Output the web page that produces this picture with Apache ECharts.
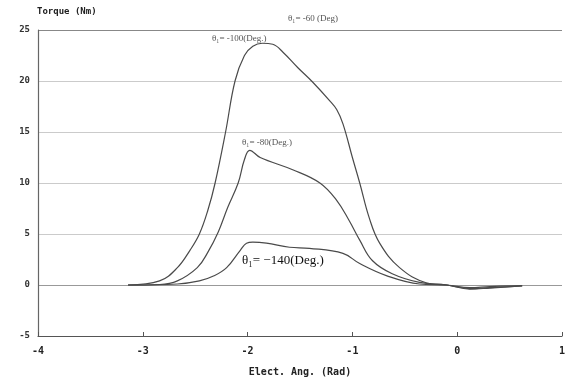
<!DOCTYPE html>
<html>
<head>
<meta charset="utf-8">
<script src="https://cdn.jsdelivr.net/npm/echarts@6/dist/echarts.min.js"></script>
<style>
  html, body { margin: 0; padding: 0; background: #fff; }
  #chart { width: 568px; height: 382px; }
</style>
</head>
<body>
<div id="chart"></div>
<script>
// Torque vs. electrical angle for several advance angles θ1
const xTicks = [-4, -3, -2, -1, 0, 1];
const yTicks = [-5, 0, 5, 10, 15, 20, 25];

// θ1 = -100 deg
const angA = [-3.14, -2.84, -2.67, -2.55, -2.46, -2.38, -2.31, -2.21, -2.12, -2.03, -1.95, -1.86, -1.76, -1.66, -1.52, -1.38, -1.22, -1.15, -1.09, -1.00, -0.93, -0.84, -0.74, -0.55, -0.29, -0.10, 0.12, 0.31, 0.62];
const torqueA = [0, 0.4, 1.7, 3.4, 5.0, 7.3, 10.0, 15.0, 20.0, 22.5, 23.4, 23.7, 23.6, 22.8, 21.3, 19.9, 18.1, 17.2, 15.8, 12.5, 10.0, 6.6, 4.1, 1.7, 0.2, 0, -0.4, -0.3, -0.1];

// θ1 = -80 deg
const angB = [-3.14, -2.84, -2.67, -2.48, -2.38, -2.28, -2.19, -2.09, -2.03, -1.98, -1.88, -1.57, -1.31, -1.15, -1.03, -0.93, -0.81, -0.62, -0.36, -0.10, 0.12, 0.31, 0.62];
const torqueB = [0, 0.05, 0.4, 1.7, 3.2, 5.2, 7.6, 10.0, 12.3, 13.2, 12.5, 11.3, 10.0, 8.3, 6.3, 4.4, 2.4, 1.1, 0.25, 0, -0.35, -0.25, -0.1];

// θ1 = -140 deg
const angC = [-3.14, -2.67, -2.46, -2.32, -2.20, -2.07, -2.01, -1.95, -1.82, -1.60, -1.41, -1.09, -0.93, -0.67, -0.36, -0.10, 0.12, 0.31, 0.62];
const torqueC = [0, 0.1, 0.4, 0.9, 1.7, 3.4, 4.1, 4.2, 4.1, 3.7, 3.6, 3.1, 2.1, 0.9, 0.1, 0, -0.25, -0.15, -0.05];

const pairs = (xs, ys) => xs.map((x, i) => [x, ys[i]]);

const mono = '"DejaVu Sans Mono", "Liberation Mono", monospace';
const lineStyle = { color: '#4a4a4a', width: 1.2 };

const chart = echarts.init(document.getElementById('chart'), null, { renderer: 'canvas' });
chart.setOption({
  animation: false,
  backgroundColor: '#ffffff',
  grid: { left: 38, right: 6, top: 30, bottom: 46 },
  xAxis: {
    type: 'value',
    min: xTicks[0],
    max: xTicks[xTicks.length - 1],
    interval: 1,
    name: 'Elect. Ang. (Rad)',
    nameLocation: 'middle',
    nameGap: 31,
    nameTextStyle: { fontFamily: mono, fontWeight: 'bold', fontSize: 10, color: '#222' },
    axisLine: { onZero: false, lineStyle: { color: '#555', width: 1.2 } },
    axisTick: { inside: true, length: 4, lineStyle: { color: '#555' } },
    axisLabel: { fontFamily: mono, fontWeight: 'bold', fontSize: 10, color: '#222', margin: 10 },
    splitLine: { show: false }
  },
  yAxis: {
    type: 'value',
    min: yTicks[0],
    max: yTicks[yTicks.length - 1],
    interval: 5,
    axisLine: { show: true, onZero: false, lineStyle: { color: '#666', width: 1.2 } },
    axisTick: { show: false },
    axisLabel: { fontFamily: mono, fontWeight: 'bold', fontSize: 9, color: '#333', margin: 8 },
    // gridlines from -5 up to 25; the zero line and the top border are drawn darker
    splitLine: { show: true, lineStyle: { color: ['#555', '#999', '#cbcbcb', '#cbcbcb', '#cbcbcb', '#cbcbcb', '#888'], width: 1.2 } }
  },
  graphic: [
    { type: 'text', left: 37, top: 7,
      style: { text: 'Torque (Nm)', font: 'bold 9px ' + mono, fill: '#222' } },
    { type: 'text', left: 288, top: 14,
      style: { text: 'θ₁= -60 (Deg)', font: '9px "Liberation Serif", serif', fill: '#555' } },
    { type: 'text', left: 212, top: 34,
      style: { text: 'θ₁= -100(Deg.)', font: '9px "Liberation Serif", serif', fill: '#555' } },
    { type: 'text', left: 242, top: 138,
      style: { text: 'θ₁= -80(Deg.)', font: '9px "Liberation Serif", serif', fill: '#555' } },
    { type: 'text', left: 242, top: 254,
      style: { text: 'θ₁= −140(Deg.)', font: '13px "Liberation Serif", serif', fill: '#111' } }
  ],
  series: [
    { type: 'line', data: pairs(angA, torqueA), smooth: 0.4, showSymbol: false, lineStyle },
    { type: 'line', data: pairs(angB, torqueB), smooth: 0.4, showSymbol: false, lineStyle },
    { type: 'line', data: pairs(angC, torqueC), smooth: 0.4, showSymbol: false, lineStyle }
  ]
});
</script>
</body>
</html>
